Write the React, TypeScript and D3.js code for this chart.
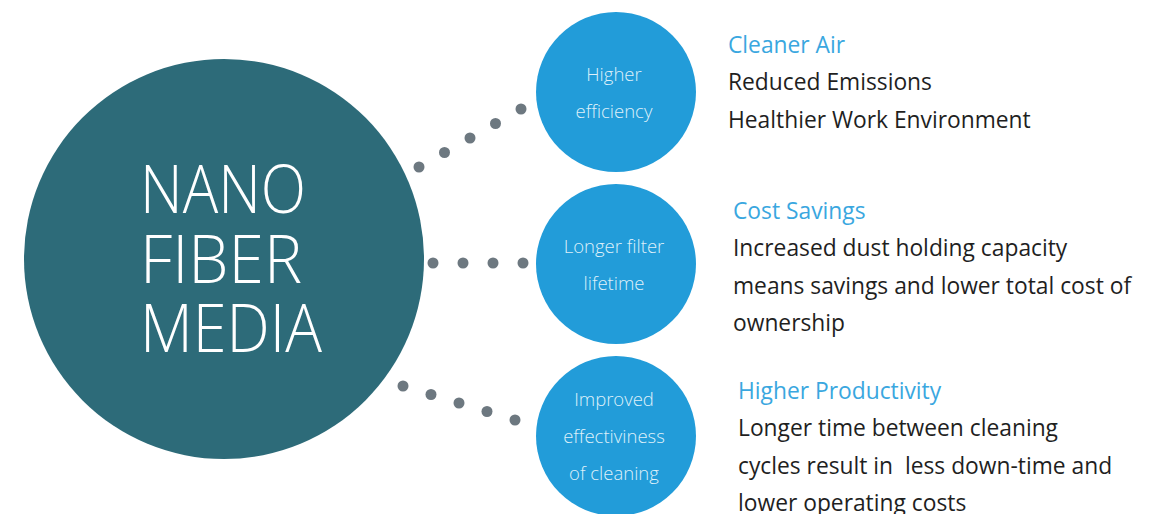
import React from 'react';
import * as d3 from 'd3';

const W = 1151;
const H = 514;

// hub
const hubLines = ['NANO', 'FIBER', 'MEDIA'];
const hubWidths = [166, 162, 182];

// benefit bubbles and their descriptions
const bubbleLabels = [
  ['Higher', 'efficiency'],
  ['Longer filter', 'lifetime'],
  ['Improved', 'effectiviness', 'of cleaning'],
];
const headings = ['Cleaner Air', 'Cost Savings', 'Higher Productivity'];
const details = [
  ['Reduced Emissions', 'Healthier Work Environment'],
  ['Increased dust holding capacity', 'means savings and lower total cost of', 'ownership'],
  ['Longer time between cleaning', 'cycles result in  less down-time and', 'lower operating costs'],
];
const dotCounts = [5, 4, 5];

// layout
const hub = { cx: 224, cy: 259, r: 200 };
const bubbleX = 616;
const bubbleR = 80;
const bubbleY = d3.scalePoint<number>().domain([0, 1, 2]).range([92, 436]);
const textX = [728, 733, 738];
const textTop = [45, 211, 391];
const connectors = [
  { x0: 419, y0: 167, x1: 521, y1: 109 },
  { x0: 433, y0: 263, x1: 523, y1: 263 },
  { x0: 403, y0: 386, x1: 515, y1: 420 },
];

const FONT = "'Open Sans', 'DejaVu Sans', sans-serif";
const C_HUB = '#2d6b79';
const C_BUBBLE = '#229cd9';
const C_DOT = '#6d7880';
const C_HEAD = '#3aa7df';
const C_TEXT = '#1f1f1f';

export default function App() {
  return (
    <svg width={W} height={H} style={{ position: 'absolute', left: 0, top: 0, background: '#fff' }}>
      <circle cx={hub.cx} cy={hub.cy} r={hub.r} fill={C_HUB} />
      {hubLines.map((t, i) => (
        <text key={t} x={140} y={213 + i * 69.5} fill="#fff" fontFamily={FONT}
          fontWeight={300} fontSize={67} textLength={hubWidths[i]}
          lengthAdjust="spacingAndGlyphs">{t}</text>
      ))}

      {connectors.map((c, i) => {
        const n = dotCounts[i];
        const sx = d3.scaleLinear().domain([0, n - 1]).range([c.x0, c.x1]);
        const sy = d3.scaleLinear().domain([0, n - 1]).range([c.y0, c.y1]);
        return d3.range(n).map(k => (
          <circle key={`${i}-${k}`} cx={sx(k)} cy={sy(k)} r={5.5} fill={C_DOT} />
        ));
      })}

      {bubbleLabels.map((lines, i) => {
        const cy = bubbleY(i)!;
        const y0 = cy - ((lines.length - 1) * 37) / 2;
        return (
          <g key={i}>
            <circle cx={bubbleX} cy={cy} r={bubbleR} fill={C_BUBBLE} />
            {lines.map((t, j) => (
              <text key={j} x={bubbleX - 2} y={y0 + j * 37 + 1} dy="0.35em" textAnchor="middle"
                fill="#dff0fa" fontFamily={FONT} fontWeight={300} fontSize={18.5}>{t}</text>
            ))}
          </g>
        );
      })}

      {headings.map((h, i) => (
        <g key={h}>
          <text x={textX[i]} y={textTop[i]} dy="0.35em" fill={C_HEAD} fontFamily={FONT}
            fontSize={22.8}>{h}</text>
          {details[i].map((t, j) => (
            <text key={j} x={textX[i]} y={textTop[i] + (j + 1) * 37.3} dy="0.35em" fill={C_TEXT}
              fontFamily={FONT} fontSize={22.8} style={{ whiteSpace: 'pre' }}>{t}</text>
          ))}
        </g>
      ))}
    </svg>
  );
}
